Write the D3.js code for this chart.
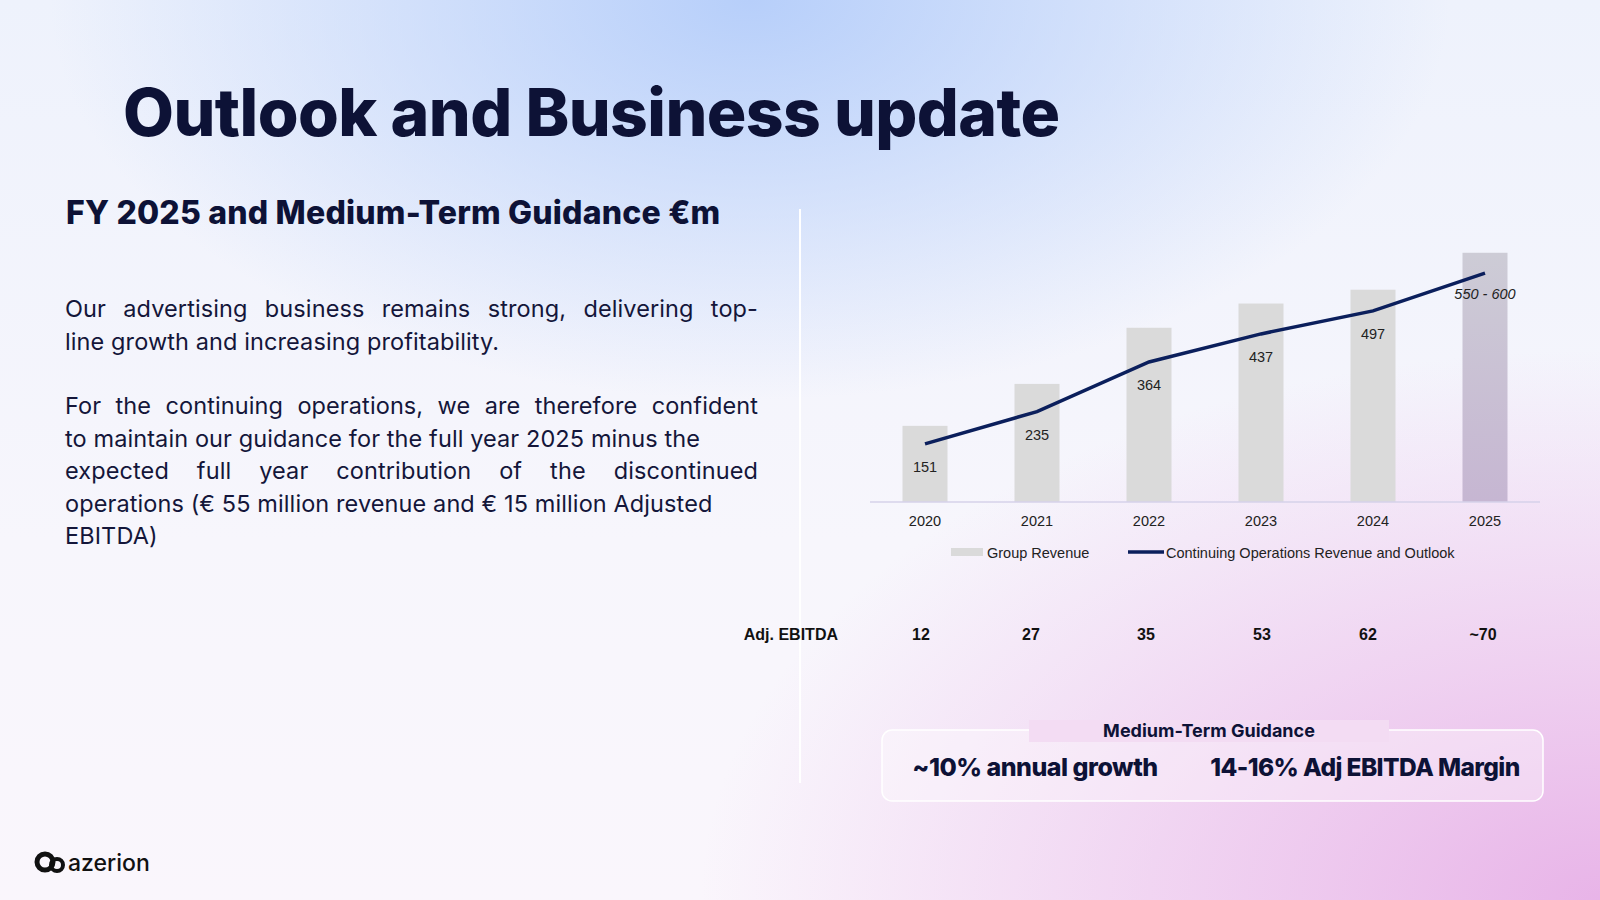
<!DOCTYPE html>
<html><head><meta charset="utf-8">
<script src="https://cdn.jsdelivr.net/npm/d3@7"></script>
<style>
body{margin:0;width:1600px;height:900px;overflow:hidden;font-family:Inter,"Noto Sans",sans-serif;
background:
 radial-gradient(ellipse 700px 400px at 750px 0px, rgba(180,205,250,0.95), rgba(200,215,250,0) 100%),
 radial-gradient(ellipse 900px 550px at 1600px 900px, rgba(232,180,232,1), rgba(240,200,240,0) 100%),
 linear-gradient(180deg,#eef2fc 0%,#f7f6fc 60%,#faf6fc 100%);}
#body{position:absolute;left:65px;top:293px;width:693px;font-family:Inter,"Noto Sans",sans-serif;font-size:23.5px;font-weight:400;line-height:32.5px;color:#14163a;letter-spacing:0.1px}
#body div.j{text-align:justify;text-align-last:justify;white-space:nowrap}
#body div.gap{height:32px}
svg{position:absolute;left:0;top:0}
</style></head><body>
<div id="body">
<div class="j">Our advertising business remains strong, delivering top-</div>
<div>line growth and increasing profitability.</div>
<div class="gap"></div>
<div class="j">For the continuing operations, we are therefore confident</div>
<div>to maintain our guidance for the full year 2025 minus the</div>
<div class="j">expected full year contribution of the discontinued</div>
<div>operations (€ 55 million revenue and € 15 million Adjusted</div>
<div>EBITDA)</div>
</div>
<svg id="c" width="1600" height="900"></svg>
<script>
const years = ["2020","2021","2022","2023","2024","2025"];
const groupRevenue = [198, 307, 453, 516, 552, 648];
const continuingRevenue = [151, 235, 364, 437, 497, 595];
const lineLabels = ["151","235","364","437","497","550 - 600"];
const adjEbitda = ["12","27","35","53","62","~70"];

const svg = d3.select("#c");
const navy = "#0d1236";

svg.append("text").attr("x",123).attr("y",136).attr("font-size",66).attr("font-weight",800)
  .attr("fill",navy).attr("letter-spacing","-0.6").text("Outlook and Business update");
svg.append("text").attr("x",66).attr("y",224).attr("font-size",32).attr("font-weight",800)
  .attr("fill",navy).attr("letter-spacing","0.2").text("FY 2025 and Medium-Term Guidance €m");

// divider
svg.append("line").attr("x1",800).attr("x2",800).attr("y1",209).attr("y2",783)
  .attr("stroke","#fff").attr("stroke-width",2);

const x = d3.scalePoint().domain(years).range([925,1485]);
const y = d3.scaleLinear().domain([0,650]).range([502,252]);
const bw = 45;
const cx = d => x(d);

const barFill = (d,i) => i === 5 ? "url(#g25)" : "#dadada";
const defs = svg.append("defs");
const lg = defs.append("linearGradient").attr("id","g25").attr("x1",0).attr("x2",0).attr("y1",0).attr("y2",1);
lg.append("stop").attr("offset","0").attr("stop-color","#cdccd6");
lg.append("stop").attr("offset","1").attr("stop-color","#c6b6d2");

svg.selectAll("rect.bar").data(groupRevenue).join("rect").attr("class","bar")
  .attr("x",(d,i)=>cx(years[i])-bw/2).attr("width",bw)
  .attr("y",d=>y(d)).attr("height",d=>y(0)-y(d)).attr("fill",barFill);

svg.append("line").attr("x1",870).attr("x2",1540).attr("y1",y(0)).attr("y2",y(0))
  .attr("stroke","#d6d2ea").attr("stroke-width",1.5);

const line = d3.line().x((d,i)=>cx(years[i])).y(d=>y(d));
svg.append("path").datum(continuingRevenue).attr("d",line).attr("fill","none")
  .attr("stroke","#0b1f5c").attr("stroke-width",3.5);

svg.selectAll("text.lab").data(lineLabels).join("text").attr("class","lab")
  .attr("x",(d,i)=>cx(years[i])).attr("y",(d,i)=>y(continuingRevenue[i])+ (i===5?26:28))
  .attr("text-anchor","middle").attr("font-family","Liberation Sans, Arial").attr("font-size",14.5)
  .attr("font-style",(d,i)=>i===5?"italic":"normal").attr("fill","#222").text(d=>d);

svg.selectAll("text.yr").data(years).join("text").attr("class","yr")
  .attr("x",d=>cx(d)).attr("y",526).attr("text-anchor","middle")
  .attr("font-family","Liberation Sans, Arial").attr("font-size",14.5).attr("fill","#222").text(d=>d);

// legend
const leg = svg.append("g").attr("font-family","Liberation Sans, Arial").attr("font-size",14.5).attr("fill","#222");
leg.append("rect").attr("x",951).attr("y",548).attr("width",32).attr("height",8).attr("fill","#dadada");
leg.append("text").attr("x",987).attr("y",558).text("Group Revenue");
leg.append("line").attr("x1",1128).attr("x2",1164).attr("y1",552).attr("y2",552).attr("stroke","#0b1f5c").attr("stroke-width",3.5);
leg.append("text").attr("x",1166).attr("y",558).text("Continuing Operations Revenue and Outlook");

// Adj EBITDA row
const ebX = [921, 1031, 1146, 1262, 1368, 1483];
svg.append("text").attr("x",838).attr("y",640).attr("text-anchor","end").attr("font-family","Liberation Sans, Arial")
  .attr("font-weight",700).attr("font-size",16).attr("fill","#111").text("Adj. EBITDA");
svg.selectAll("text.eb").data(adjEbitda).join("text").attr("class","eb")
  .attr("x",(d,i)=>ebX[i]).attr("y",640).attr("text-anchor","middle").attr("font-family","Liberation Sans, Arial")
  .attr("font-weight",700).attr("font-size",16).attr("fill","#111").text(d=>d);

// guidance box
svg.append("rect").attr("x",882).attr("y",730).attr("width",661).attr("height",71).attr("rx",10)
  .attr("fill","rgba(255,255,255,0.35)").attr("stroke","#fff").attr("stroke-width",1.5);
svg.append("rect").attr("x",1029).attr("y",720).attr("width",360).attr("height",22).attr("fill","#f3dcf3");
svg.append("text").attr("x",1209).attr("y",737).attr("text-anchor","middle").attr("font-size",18)
  .attr("font-weight",700).attr("fill",navy).text("Medium-Term Guidance");
svg.append("text").attr("x",1035).attr("y",776).attr("text-anchor","middle").attr("font-size",25)
  .attr("font-weight",800).attr("fill",navy).attr("letter-spacing","-0.5").text("~10% annual growth");
svg.append("text").attr("x",1365).attr("y",776).attr("text-anchor","middle").attr("font-size",24.5)
  .attr("font-weight",800).attr("fill",navy).attr("letter-spacing","-0.6").text("14-16% Adj EBITDA Margin");

// logo
const lgG = svg.append("g");
lgG.append("circle").attr("cx",45).attr("cy",862).attr("r",8).attr("fill","none").attr("stroke","#111").attr("stroke-width",5);
lgG.append("circle").attr("cx",57).attr("cy",865).attr("r",6).attr("fill","none").attr("stroke","#111").attr("stroke-width",4);
lgG.append("text").attr("x",68).attr("y",871).attr("font-size",23).attr("font-weight",500).attr("fill","#111").text("azerion");
</script></body></html>
